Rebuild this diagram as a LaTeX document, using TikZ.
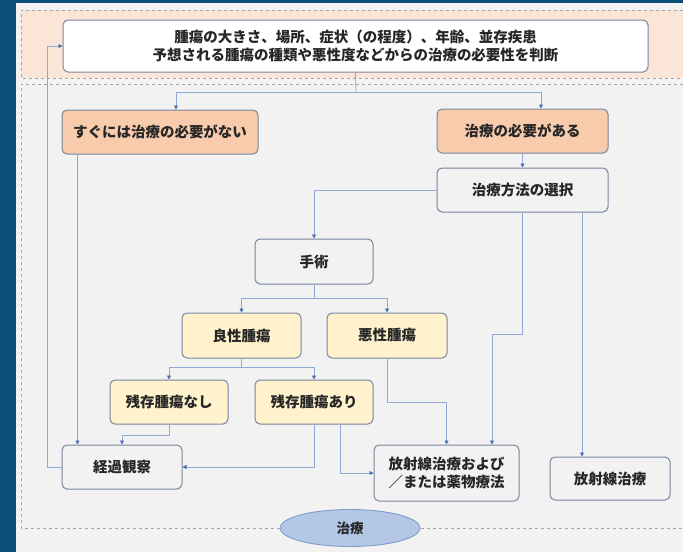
\documentclass[tikz,border=0pt]{standalone}
\usepackage{fontspec}
\newfontfamily\cjk{Noto Sans CJK JP}
\usetikzlibrary{arrows.meta,shapes.geometric}

\definecolor{slide}{HTML}{0B5079}
\definecolor{sheet}{HTML}{F2F2F2}
\definecolor{band}{HTML}{FBE5D6}
\definecolor{peach}{HTML}{F8CBAD}
\definecolor{cream}{HTML}{FFF2CC}
\definecolor{edge}{HTML}{76869E}
\definecolor{wire}{HTML}{8FA8D4}
\definecolor{tip}{HTML}{4A6FB5}
\definecolor{oval}{HTML}{B4C7E7}
\definecolor{ovaledge}{HTML}{7F9BCB}
\definecolor{frame}{HTML}{A6A6A6}
\definecolor{ink}{HTML}{262626}

\begin{document}
\begin{tikzpicture}[x=1pt,y=-1pt]
  \tikzset{box/.style = {draw=edge, line width=1pt, rounded corners=5pt, fill=white, inner sep=0pt, text=ink, font=\cjk\bfseries\fontsize{14.5}{18}\selectfont, align=center}}
  \tikzset{warm/.style = {box, fill=peach}}
  \tikzset{pale/.style = {box, fill=cream}}
  \tikzset{plain/.style = {box, fill=sheet}}
  \tikzset{link/.style = {draw=wire, line width=0.8pt, -{Triangle[length=4pt,width=4pt,color=tip]}}}
  \tikzset{rim/.style = {draw=frame, dashed, line width=0.6pt}}

  \useasboundingbox (0,0) rectangle (683,552);

  % Background
  \fill[slide] (0,0) rectangle (683,552);
  \fill[sheet] (16,3) rectangle (683,552);
  \fill[band] (21,10) rectangle (683,78);
  \draw[rim] (683,10) -- (21,10) -- (21,78) -- (683,78);
  \draw[rim] (683,84) -- (21,84) -- (21,528) -- (683,528);

  % Boxes
  \node[box, minimum width=585, minimum height=52] (judge) at (355.5,46)
    {\fontsize{14.5}{23}\selectfont 腫瘍の大きさ、場所、症状（の程度）、年齢、並存疾患\\ \fontsize{14.5}{23}\selectfont 予想される腫瘍の種類や悪性度などからの治療の必要性を判断};
  \node[warm, minimum width=196, minimum height=44] (nonneed) at (160,132) {すぐには治療の必要がない};
  \node[warm, minimum width=171, minimum height=44] (need) at (522.5,131) {治療の必要がある};
  \node[plain, minimum width=171, minimum height=44] (select) at (522.5,190) {治療方法の選択};
  \node[plain, minimum width=118, minimum height=45] (surgery) at (314,261.5) {手術};
  \node[pale, minimum width=119, minimum height=45] (benign) at (241.5,335.5) {良性腫瘍};
  \node[pale, minimum width=120, minimum height=45] (malig) at (387,335.5) {悪性腫瘍};
  \node[pale, minimum width=118, minimum height=44] (norest) at (169,402) {残存腫瘍なし};
  \node[pale, minimum width=118, minimum height=44] (rest) at (314,402) {残存腫瘍あり};
  \node[plain, minimum width=120, minimum height=44] (observe) at (122,467) {経過観察};
  \node[plain, minimum width=145, minimum height=56] (chemo) at (446.5,473) {放射線治療および\\／または薬物療法};
  \node[plain, minimum width=120, minimum height=43] (radio) at (610,478.5) {放射線治療};

  % Connectors
  \coordinate (split) at (356,92);
  \draw[draw=wire, line width=0.8pt] (judge.south) -- (split);
  \draw[link] (split) -| ([xshift=16pt]nonneed.north);
  \draw[link] (split) -| ([xshift=18.5pt]need.north);
  \draw[link] (need.south) -- (select.north);
  \draw[link] (select.west) -| (surgery.north);
  \draw[link] (surgery.south) -- ++(0,14) -| (benign.north);
  \draw[link] (surgery.south) -- ++(0,14) -| (malig.north);
  \draw[link] (benign.south) -- ++(0,9) -| (norest.north);
  \draw[link] (benign.south) -- ++(0,9) -| (rest.north);
  \draw[link] (norest.south) -- ++(0,11) -| (observe.north);
  \draw[link] ([xshift=16pt]nonneed.south west) -- ([xshift=16pt]observe.north west);
  \draw[link] (rest.south) |- (observe.east);
  \draw[link] ([xshift=26pt]rest.south) |- (chemo.west);
  \draw[link] (malig.south) -- ++(0,44) -| (chemo.north);
  \draw[link] (select.south) -- ++(0,122) -| ([xshift=45.5pt]chemo.north);
  \draw[link] ([xshift=59.5pt]select.south) -- ([xshift=59.5pt]select.south |- radio.north);
  \draw[link] (observe.west) -- ++(-14,0) |- (judge.west);

  % Label
  \node[ellipse, draw=ovaledge, line width=0.9pt, fill=oval, minimum width=140, minimum height=37, inner sep=0pt, text=ink, font=\cjk\bfseries\fontsize{13.5}{16}\selectfont] (treat) at (350,528) {治療};
\end{tikzpicture}
\end{document}
